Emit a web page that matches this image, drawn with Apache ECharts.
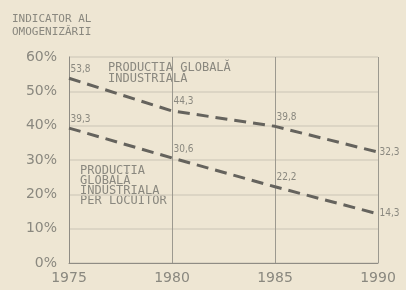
<!DOCTYPE html>
<html><head><meta charset="utf-8">
<script src="https://cdn.jsdelivr.net/npm/echarts@6/dist/echarts.min.js"></script>
<style>html,body{margin:0;padding:0;background:#eee6d3;}#c{width:406px;height:290px;}</style>
</head><body><div id="c"></div>
<script>
const years = ['1975', '1980', '1985', '1990'];
const globalInd = [53.8, 44.3, 39.8, 32.3];
const perCapita = [39.3, 30.6, 22.2, 14.3];
const yTicks = [0, 10, 20, 30, 40, 50, 60];

const txt = '#8a887f';
const lineCol = '#65635d';
function mkData(arr) {
  return arr.map((v, i) => ({
    value: v,
    label: i < arr.length - 1
      ? { position: 'right', offset: [-4, -9] }
      : { position: 'right', offset: [-4, 0] }
  }));
}
const lbl = { show: true, color: txt, fontSize: 10, fontFamily: 'DejaVu Sans Condensed',
  formatter: p => String(p.value).replace('.', ',') };
const chart = echarts.init(document.getElementById('c'));
chart.setOption({
  backgroundColor: '#eee6d3',
  animation: false,
  grid: { left: 69, right: 28, top: 57, bottom: 27 },
  xAxis: {
    type: 'category', data: years, boundaryGap: false,
    axisLine: { lineStyle: { color: '#8f8c84', width: 1 } },
    axisTick: { show: false },
    axisLabel: { color: txt, fontSize: 14, fontFamily: 'DejaVu Sans', margin: 8 },
    splitLine: { show: true, lineStyle: { color: '#9c998f', width: 1 } }
  },
  yAxis: {
    type: 'value', min: yTicks[0], max: yTicks[yTicks.length - 1], interval: 10,
    axisLine: { show: true, lineStyle: { color: '#8f8c84' } },
    axisTick: { show: false },
    axisLabel: { color: txt, fontSize: 14, fontFamily: 'DejaVu Sans', margin: 12, formatter: v => v + '%' },
    splitLine: { lineStyle: { color: '#d6cfbf', width: 1.5 } }
  },
  series: [
    { type: 'line', data: mkData(globalInd), symbol: 'circle', symbolSize: 1, showSymbol: true,
      itemStyle: { color: 'rgba(0,0,0,0)' },
      lineStyle: { color: lineCol, width: 3, type: [12, 7] }, label: lbl },
    { type: 'line', data: mkData(perCapita), symbol: 'circle', symbolSize: 1, showSymbol: true,
      itemStyle: { color: 'rgba(0,0,0,0)' },
      lineStyle: { color: lineCol, width: 3, type: [12, 7] }, label: lbl }
  ],
  graphic: [
    { type: 'text', left: 12, top: 13, style: { text: 'INDICATOR AL\nOMOGENIZĂRII', fill: txt, font: '11px "DejaVu Sans Mono"', lineHeight: 13 } },
    { type: 'text', left: 108, top: 62, style: { text: 'PRODUCTIA GLOBALĂ\nINDUSTRIALĂ', fill: txt, font: '12px "DejaVu Sans Mono"', lineHeight: 11 } },
    { type: 'text', left: 80, top: 165, style: { text: 'PRODUCTIA\nGLOBALĂ\nINDUSTRIALA\nPER LOCUITOR', fill: txt, font: '12px "DejaVu Sans Mono"', lineHeight: 10 } }
  ]
});
</script></body></html>
